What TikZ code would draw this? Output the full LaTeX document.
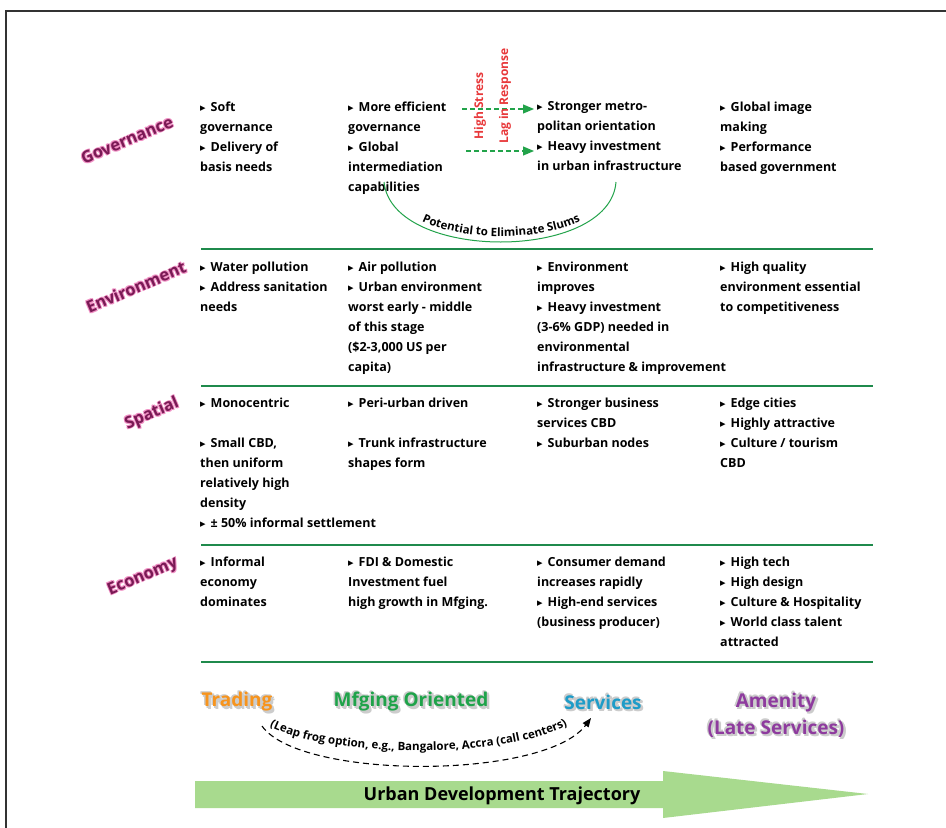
\documentclass[tikz,border=0pt]{standalone}
\usepackage{fontspec}
\setmainfont{Open Sans}
\newfontfamily\djv{DejaVu Sans}
\usetikzlibrary{arrows.meta,decorations.text}
\definecolor{gline}{HTML}{1F8A4C}
\definecolor{rowlab}{HTML}{7A1A55}
\definecolor{pinkhalo}{HTML}{F090C4}
\definecolor{arrowgreen}{HTML}{A8DA8E}
\definecolor{dashgreen}{HTML}{22A34A}
\definecolor{stressred}{HTML}{E8383A}
\definecolor{tradeor}{HTML}{F7941D}
\definecolor{mfggreen}{HTML}{1FA34A}
\definecolor{servblue}{HTML}{1E9CC8}
\definecolor{amenpur}{HTML}{8E3B9E}
\definecolor{shade}{HTML}{CCCCCC}
\definecolor{frame}{HTML}{333333}
\newcommand\bulx{{\djv\fontsize{11}{8}\selectfont\raisebox{0pt}{▸}}\hspace{5pt}}
\begin{document}
\begin{tikzpicture}[x=1pt,y=-1pt,
  cell/.style={anchor=north west, inner sep=0pt, align=left,
    font=\bfseries\fontsize{12.5}{20}\selectfont,
    execute at begin node={\rule{0pt}{11pt}}},
  rowrule/.style={draw=gline, line width=2.2pt},
  rowlabel/.style={inner sep=0pt, rotate=23, font=\bfseries\fontsize{16.5}{16}\selectfont},
  stage/.style={inner sep=0pt, align=center, font=\bfseries\fontsize{19}{27}\selectfont},
  redlab/.style={inner sep=0pt, rotate=90, text=stressred, font=\bfseries\fontsize{12}{12}\selectfont},
  gdash/.style={draw=dashgreen, line width=1.2pt, dash pattern=on 5pt off 3pt,
    -{Triangle[length=11pt,width=9pt,fill=dashgreen]}}]
\useasboundingbox (0,0) rectangle (946,828);
\fill[white] (0,0) rectangle (946,828);
% frame
\draw[frame, line width=1.6pt] (6,828) -- (6,11) -- (946,11);
% row rules
\draw[rowrule] (201,249) -- (873,249);
\draw[rowrule] (201,386) -- (873,386);
\draw[rowrule] (201,545) -- (873,545);
\draw[rowrule] (201,662) -- (873,662);
% row labels with halo
\foreach \lab/\px/\py in {Governance/127/140, Environment/136/287, Spatial/152/414, Economy/143/577}{
  \foreach \dx/\dy in {1/0.6,-1/-0.6,0.6/-1,-0.6/1}
    \node[rowlabel, text=pinkhalo] at (\px+\dx,\py+\dy) {\lab};
  \node[rowlabel, text=rowlab] (lab\lab) at (\px,\py) {\lab};
}
% Governance
\node[cell] (g1) at (200,101.5) {\bulx Soft\\governance\\\bulx Delivery of\\basis needs};
\node[cell] (g2) at (348,101.5) {\bulx More efficient\\governance\\\bulx Global\\intermediation\\capabilities};
\node[cell] (g3) at (537,101.5) {\bulx Stronger metro-\\politan orientation\\\bulx Heavy investment\\in urban infrastructure};
\node[cell] (g4) at (720,101.5) {\bulx Global image\\making\\\bulx Performance\\based government};
% Environment
\node[cell] (e1) at (200,261.5) {\bulx Water pollution\\\bulx Address sanitation\\needs};
\node[cell] (e2) at (348,261.5) {\bulx Air pollution\\\bulx Urban environment\\worst early - middle\\of this stage\\(\$2-3,000 US per\\capita)};
\node[cell] (e3) at (537,261.5) {\bulx Environment\\improves\\\bulx Heavy investment\\(3-6\% GDP) needed in\\environmental\\infrastructure \& improvement};
\node[cell] (e4) at (720,261.5) {\bulx High quality\\environment essential\\to competitiveness};
% Spatial
\node[cell] (s1) at (200,397.5) {\bulx Monocentric\\[20pt]\bulx Small CBD,\\then uniform\\relatively high\\density\\\bulx ± 50\% informal settlement};
\node[cell] (s2) at (348,397.5) {\bulx Peri-urban driven\\[20pt]\bulx Trunk infrastructure\\shapes form};
\node[cell] (s3) at (537,397.5) {\bulx Stronger business\\services CBD\\\bulx Suburban nodes};
\node[cell] (s4) at (720,397.5) {\bulx Edge cities\\\bulx Highly attractive\\\bulx Culture / tourism\\CBD};
% Economy
\node[cell] (c1) at (200,556.5) {\bulx Informal\\economy\\dominates};
\node[cell] (c2) at (348,556.5) {\bulx FDI \& Domestic\\Investment fuel\\high growth in Mfging.};
\node[cell] (c3) at (537,556.5) {\bulx Consumer demand\\increases rapidly\\\bulx High-end services\\(business producer)};
\node[cell] (c4) at (720,556.5) {\bulx High tech\\\bulx High design\\\bulx Culture \& Hospitality\\\bulx World class talent\\attracted};
% stress arrows
\coordinate (sa1) at (462,109);
\coordinate (ta1) at (534,109);
\coordinate (sa2) at (466,151);
\coordinate (ta2) at (534,151);
\draw[gdash] (sa1) -- (ta1);
\draw[gdash] (sa2) -- (ta2);
\node[redlab] (hs) at (480,106) {High Stress};
\node[redlab] (lr) at (505,96) {Lag in Response};
% slums arc
\coordinate (sl1) at (384,182);
\coordinate (sl2) at (616,182);
\draw[dashgreen, line width=1pt] (sl1) .. controls (392,262) and (610,262) .. (sl2);
\path[decorate, decoration={text along path, text align=center,
  text={|\bfseries\fontsize{11.5}{10}\selectfont|Potential to Eliminate Slums}}]
  (393,189) .. controls (402,252) and (602,252) .. (609,189);
% stages
\foreach \txt/\px/\py in {Trading/237/702, Mfging Oriented/411/702, Services/603/702, Amenity\\(Late Services)/776/715}{
  \foreach \dx/\dy in {2/1,-1.5/-1,1/2,-1/-1.5,2.5/2.5}
    \node[stage, text=shade] at (\px+\dx,\py+\dy) {\txt};
}
\node[stage, text=tradeor] (trading) at (237,702) {Trading};
\node[stage, text=mfggreen] (mfg) at (411,702) {Mfging Oriented};
\node[stage, text=servblue] (services) at (603,702) {Services};
\node[stage, text=amenpur] (amenity) at (776,715) {Amenity\\(Late Services)};
% leap frog
\coordinate (lf1) at (262,726);
\coordinate (lf2) at (591,718);
\draw[black, line width=1.1pt, dash pattern=on 6pt off 4pt,
  -{Triangle[length=9pt,width=7pt]}] (lf1) .. controls (300,780) and (545,780) .. (lf2);
\path[decorate, decoration={text along path, text align=center,
  text={|\bfseries\fontsize{11.5}{10}\selectfont|(Leap frog option, e.g., Bangalore, Accra (call centers)}}]
  (250,712) .. controls (294,764) and (548,764) .. (586,710);
% trajectory arrow
\fill[arrowgreen] (195,781) -- (663,781) -- (663,771) -- (868,794) -- (663,818) -- (663,808) -- (195,808) -- cycle;
\node[inner sep=0pt, font=\bfseries\fontsize{18}{18}\selectfont] (traj) at (502,796) {Urban Development Trajectory};
\end{tikzpicture}
\end{document}
